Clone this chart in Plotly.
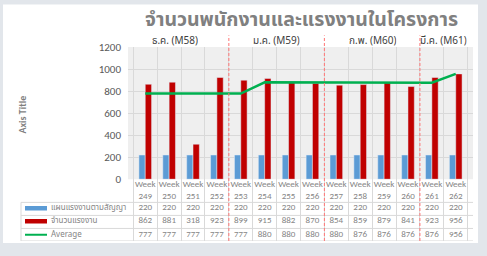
import plotly.graph_objects as go

# ---------------- data ----------------
week_numbers = ["249", "250", "251", "252", "253", "254", "255",
                "256", "257", "258", "259", "260", "261", "262"]
categories = ["Week " + w for w in week_numbers]
plan = [220, 220, 220, 220, 220, 220, 220, 220, 220, 220, 220, 220, 220, 220]
actual = [862, 881, 318, 923, 899, 915, 882, 870, 854, 859, 879, 841, 923, 956]
average = [777, 777, 777, 777, 777, 880, 880, 880, 880, 876, 876, 876, 876, 956]
series_names = ["แผนแรงงานตามสัญญา", "จำนวนแรงงาน", "Average"]
months = ["ธ.ค. (M58)", "ม.ค. (M59)", "ก.พ. (M60)", "มี.ค. (M61)"]
title_text = "จำนวนพนักงานและแรงงานในโครงการ"
y_ticks = [0, 200, 400, 600, 800, 1000, 1200]

# ---------------- layout helpers ----------------
W, H = 487, 256
L, R, T, B = 128, 14, 47, 8
PW, PH = W - L - R, H - T - B
def px(x):
    return (x - L) / PW
def py(y):
    return (H - B - y) / PH

colors = ["#5b9bd5", "#c00000", "#00b050"]
THAI = "Noto Sans Thai, Leelawadee UI, Tahoma, Noto Sans, sans-serif"
LAT = "Calibri, Carlito, Noto Sans, sans-serif"
grid = "#d9d9d9"
txt = "#858585"

month_x = [1.25, 5.5, 9.5, 12.5]
month_breaks = [3.5, 7.5, 11.5]
# table rows in y2 units (pixels above table bottom)
row_y = [34, 20.5, 6.5]
row_lines = [40, 26.5, 13, 0]
header_y = 52

fig = go.Figure()
fig.add_trace(go.Bar(x=categories, y=plan, name=series_names[0],
                     marker_color=colors[0], xaxis="x", yaxis="y"))
fig.add_trace(go.Bar(x=categories, y=actual, name=series_names[1],
                     marker_color=colors[1], xaxis="x", yaxis="y"))
fig.add_trace(go.Scatter(x=categories, y=average, name=series_names[2],
                         mode="lines", line=dict(color=colors[2], width=2.5),
                         xaxis="x", yaxis="y"))

# table: header + rows
fig.add_trace(go.Scatter(x=categories, y=[header_y] * len(categories),
                         text=["Week<br>" + w for w in week_numbers],
                         mode="text", textfont=dict(size=9, color=txt, family=LAT),
                         xaxis="x2", yaxis="y2", hoverinfo="skip"))
for vals, yy in zip([plan, actual, average], row_y):
    fig.add_trace(go.Scatter(x=categories, y=[yy] * len(categories),
                             text=[str(v) for v in vals], mode="text",
                             textfont=dict(size=9, color=txt, family=LAT),
                             xaxis="x2", yaxis="y2", hoverinfo="skip"))

shapes = []
# outer frame (white card on grey)
shapes.append(dict(type="rect", xref="paper", yref="paper",
                   x0=px(3), x1=px(478), y0=py(250), y1=py(3),
                   fillcolor="white", line=dict(width=0), layer="below"))
# hatched-looking plot background
shapes.append(dict(type="rect", xref="paper", yref="paper",
                   x0=0, x1=1, y0=py(184), y1=1,
                   fillcolor="#efefef", line=dict(width=0), layer="below"))
# table horizontal lines
for yy in row_lines:
    shapes.append(dict(type="line", xref="paper", yref="y2",
                       x0=px(21), x1=1, y0=yy, y1=yy,
                       line=dict(color=grid, width=1), layer="below"))
shapes.append(dict(type="line", xref="paper", yref="y2",
                   x0=px(21), x1=px(21), y0=row_lines[0], y1=row_lines[-1],
                   line=dict(color=grid, width=1), layer="below"))
# legend keys
for c, yy, wdt in zip(colors, row_y, [4.5, 4.5, 2]):
    shapes.append(dict(type="line", xref="paper", yref="y2",
                       x0=px(25), x1=px(47), y0=yy, y1=yy,
                       line=dict(color=c, width=wdt)))
# month separators
for xb in month_breaks:
    shapes.append(dict(type="line", xref="x", yref="paper",
                       x0=xb, x1=xb, y0=py(248), y1=py(35),
                       line=dict(color="#ff7575", width=1, dash="3px,2px")))

annotations = []
annotations.append(dict(text="<b>" + title_text + "</b>", xref="paper", yref="paper",
                        x=px(301), y=py(19), showarrow=False, height=28,
                        font=dict(size=19.5, color="#808080", family=THAI),
                        xanchor="center", yanchor="middle", valign="middle"))
annotations.append(dict(text="<b>Axis Title</b>", xref="paper", yref="paper",
                        x=px(23), y=py(117), showarrow=False, textangle=-90,
                        font=dict(size=10, color="#7f7f7f", family=LAT),
                        xanchor="center", yanchor="middle"))
for m, xm in zip(months, month_x):
    annotations.append(dict(text=m, xref="x", yref="paper", x=xm, y=py(40.5),
                            showarrow=False, xanchor="center", yanchor="middle",
                            height=13, valign="middle",
                            font=dict(size=10, color="#404040", family=THAI)))
for n, yy in zip(series_names, row_y):
    annotations.append(dict(text=n, xref="paper", yref="y2", x=px(49), y=yy,
                            showarrow=False, xanchor="left", yanchor="middle",
                            font=dict(size=8, color=txt, family=THAI)))

fig.update_layout(
    width=W, height=H,
    margin=dict(l=L, r=R, t=T, b=B, pad=0),
    paper_bgcolor="#e2e6eb",
    plot_bgcolor="rgba(0,0,0,0)",
    showlegend=False,
    barmode="group", bargap=0.47, bargroupgap=0,
    shapes=shapes, annotations=annotations,
    xaxis=dict(domain=[0, 1], anchor="y", type="category", categoryarray=categories,
               showticklabels=False, showgrid=True, gridcolor=grid, tickson="boundaries",
               ticks="", showline=False, zeroline=False),
    yaxis=dict(domain=[py(184), 1], anchor="x", range=[0, 1200], tickvals=y_ticks,
               showgrid=True, gridcolor=grid, zeroline=False, ticks="",
               tickfont=dict(size=11, color="#595959", family=LAT),
               ticklabelstandoff=6),
    xaxis2=dict(domain=[0, 1], anchor="y2", matches="x", type="category",
                showticklabels=False, showgrid=True, gridcolor=grid, tickson="boundaries",
                ticks="", zeroline=False),
    yaxis2=dict(domain=[0, py(184)], anchor="x2", range=[0, 64], showgrid=False,
                showticklabels=False, zeroline=False, ticks=""),
)

fig.write_html("out.html")
